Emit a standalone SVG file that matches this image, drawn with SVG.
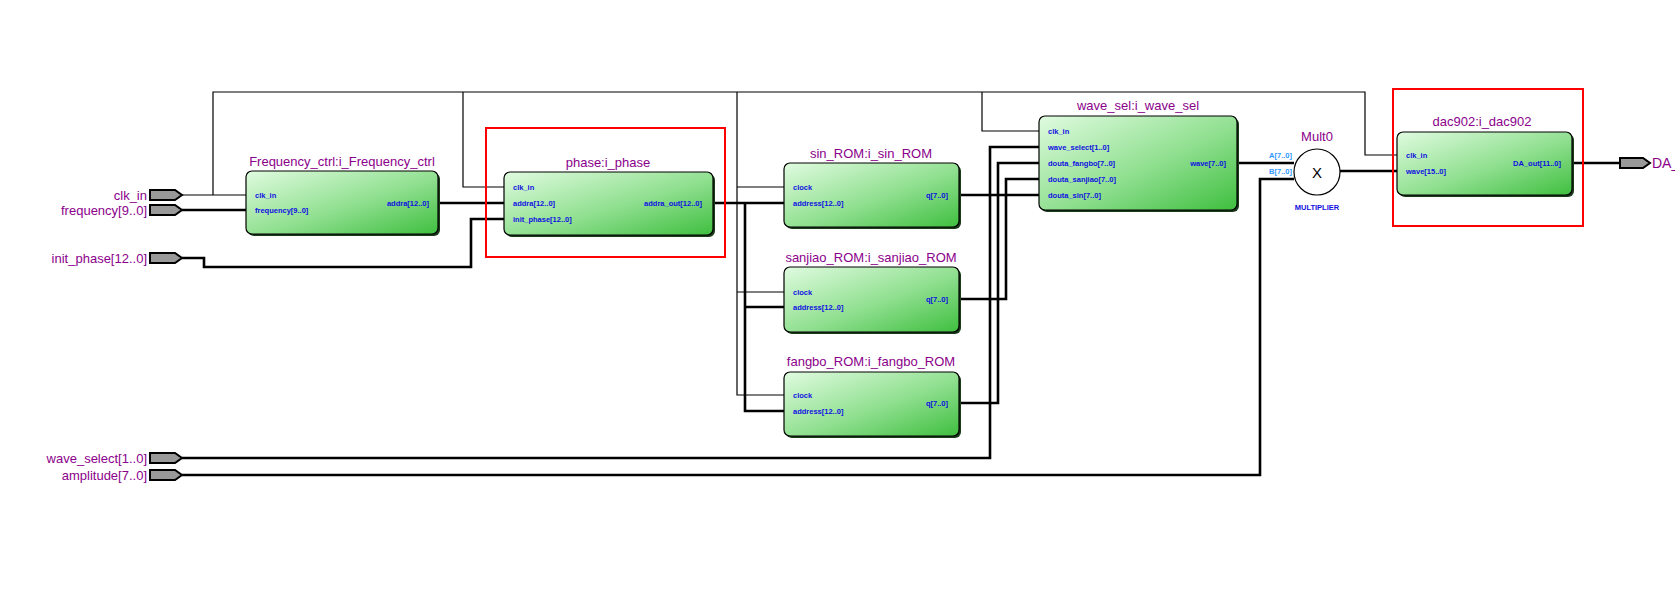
<svg xmlns="http://www.w3.org/2000/svg" width="1675" height="597" viewBox="0 0 1675 597">
<defs>
<linearGradient id="g" x1="0" y1="0" x2="1" y2="1"><stop offset="0" stop-color="#e0fbe0"/><stop offset="0.55" stop-color="#8fdf8f"/><stop offset="1" stop-color="#3fbf3f"/></linearGradient>
<style>
.box{fill:url(#g);stroke:#000;stroke-width:1.2}
.sh{fill:#1a3a1a}
.t{font-family:"Liberation Sans",Arial,sans-serif;font-size:13px;fill:#8b008b}
.p{font-family:"Liberation Sans",Arial,sans-serif;font-size:7.5px;font-weight:bold;fill:#1010e0}
.pl{font-family:"Liberation Sans",Arial,sans-serif;font-size:13px;fill:#8b008b;text-anchor:end}
.w{fill:none;stroke:#000;stroke-width:1.2}
.b{fill:none;stroke:#000;stroke-width:2.6}
.port{fill:#999;stroke:#000;stroke-width:2}
.red{fill:none;stroke:#f00;stroke-width:2}
</style>
</defs>
<rect width="1675" height="597" fill="#fff"/>
<g id="connectors">
<polyline class="w" points="182,195 246,195"/>
<polyline class="w" points="213,195 213,92 1365,92 1365,155 1397,155"/>
<polyline class="w" points="463,92 463,187 504,187"/>
<polyline class="w" points="737,92 737,395 784,395"/>
<polyline class="w" points="737,187 784,187"/>
<polyline class="w" points="737,292 784,292"/>
<polyline class="w" points="982,92 982,131 1039,131"/>
<polyline class="b" points="182,210 246,210"/>
<polyline class="b" points="438,203 504,203"/>
<polyline class="b" points="182,258 204,258 204,267 471,267 471,219 504,219"/>
<polyline class="b" points="713,203 784,203"/>
<polyline class="b" points="745,203 745,411 784,411"/>
<polyline class="b" points="745,307 784,307"/>
<polyline class="b" points="959,195 1039,195"/>
<polyline class="b" points="959,299 1006,299 1006,179 1039,179"/>
<polyline class="b" points="959,403 998,403 998,163 1039,163"/>
<polyline class="b" points="182,458 990,458 990,147 1039,147"/>
<polyline class="b" points="1237,163 1294,163"/>
<polyline class="b" points="182,475 1260,475 1260,179 1294,179"/>
<polyline class="b" points="1340,171 1397,171"/>
<polyline class="b" points="1572,163 1620,163"/>
</g>
<g id="in_clk_in"><polygon class="port" points="150,190 175,190 182,195 175,200 150,200"/><text class="pl" x="147" y="200">clk_in</text></g>
<g id="in_frequency"><polygon class="port" points="150,205 175,205 182,210 175,215 150,215"/><text class="pl" x="147" y="215">frequency[9..0]</text></g>
<g id="in_init_phase"><polygon class="port" points="150,253 175,253 182,258 175,263 150,263"/><text class="pl" x="147" y="263">init_phase[12..0]</text></g>
<g id="in_wave_select"><polygon class="port" points="150,453 175,453 182,458 175,463 150,463"/><text class="pl" x="147" y="463">wave_select[1..0]</text></g>
<g id="in_amplitude"><polygon class="port" points="150,470 175,470 182,475 175,480 150,480"/><text class="pl" x="147" y="480">amplitude[7..0]</text></g>
<g id="out_DA"><polygon class="port" points="1620,158 1643,158 1650,163 1643,168 1620,168"/><text class="t" x="1652" y="168" style="font-size:14px">DA_</text></g>
<g id="Frequency_ctrl">
<rect class="sh" x="248" y="173" width="192" height="63" rx="6"/>
<rect class="box" x="246" y="171" width="192" height="63" rx="6"/>
<text class="t" x="342" y="166" text-anchor="middle">Frequency_ctrl:i_Frequency_ctrl</text>
<text class="p" x="255" y="198">clk_in</text><text class="p" x="255" y="213">frequency[9..0]</text>
<text class="p" x="429" y="206" text-anchor="end">addra[12..0]</text>
</g>
<g id="phase">
<rect class="red" x="486" y="128" width="239" height="129"/>
<rect class="sh" x="506" y="174" width="209" height="63" rx="6"/>
<rect class="box" x="504" y="172" width="209" height="63" rx="6"/>
<text class="t" x="608" y="167" text-anchor="middle">phase:i_phase</text>
<text class="p" x="513" y="190">clk_in</text><text class="p" x="513" y="206">addra[12..0]</text><text class="p" x="513" y="222">init_phase[12..0]</text>
<text class="p" x="702" y="206" text-anchor="end">addra_out[12..0]</text>
</g>
<g id="sin_ROM">
<rect class="sh" x="786" y="165" width="175" height="64" rx="6"/>
<rect class="box" x="784" y="163" width="175" height="64" rx="6"/>
<text class="t" x="871" y="158" text-anchor="middle">sin_ROM:i_sin_ROM</text>
<text class="p" x="793" y="190">clock</text><text class="p" x="793" y="206">address[12..0]</text>
<text class="p" x="948" y="198" text-anchor="end">q[7..0]</text>
</g>
<g id="sanjiao_ROM">
<rect class="sh" x="786" y="269" width="175" height="65" rx="6"/>
<rect class="box" x="784" y="267" width="175" height="65" rx="6"/>
<text class="t" x="871" y="262" text-anchor="middle">sanjiao_ROM:i_sanjiao_ROM</text>
<text class="p" x="793" y="295">clock</text><text class="p" x="793" y="310">address[12..0]</text>
<text class="p" x="948" y="302" text-anchor="end">q[7..0]</text>
</g>
<g id="fangbo_ROM">
<rect class="sh" x="786" y="374" width="175" height="64" rx="6"/>
<rect class="box" x="784" y="372" width="175" height="64" rx="6"/>
<text class="t" x="871" y="366" text-anchor="middle">fangbo_ROM:i_fangbo_ROM</text>
<text class="p" x="793" y="398">clock</text><text class="p" x="793" y="414">address[12..0]</text>
<text class="p" x="948" y="406" text-anchor="end">q[7..0]</text>
</g>
<g id="wave_sel">
<rect class="sh" x="1041" y="118" width="198" height="94" rx="6"/>
<rect class="box" x="1039" y="116" width="198" height="94" rx="6"/>
<text class="t" x="1138" y="110" text-anchor="middle">wave_sel:i_wave_sel</text>
<text class="p" x="1048" y="134">clk_in</text><text class="p" x="1048" y="150">wave_select[1..0]</text><text class="p" x="1048" y="166">douta_fangbo[7..0]</text><text class="p" x="1048" y="182">douta_sanjiao[7..0]</text><text class="p" x="1048" y="198">douta_sin[7..0]</text>
<text class="p" x="1226" y="166" text-anchor="end">wave[7..0]</text>
</g>
<g id="Mult0">
<circle cx="1317" cy="172" r="23" fill="#fff" stroke="#000" stroke-width="1.2"/>
<text x="1317" y="178" text-anchor="middle" style="font-family:'Liberation Sans',Arial,sans-serif;font-size:15px">X</text>
<text class="t" x="1317" y="141" text-anchor="middle">Mult0</text>
<text x="1292" y="158" text-anchor="end" style="font-family:'Liberation Sans',Arial,sans-serif;font-size:7.5px;font-weight:bold;fill:#3399ff">A[7..0]</text>
<text x="1292" y="174" text-anchor="end" style="font-family:'Liberation Sans',Arial,sans-serif;font-size:7.5px;font-weight:bold;fill:#3399ff">B[7..0]</text>
<text x="1317" y="210" text-anchor="middle" style="font-family:'Liberation Sans',Arial,sans-serif;font-size:7.5px;font-weight:bold;fill:#1010e0">MULTIPLIER</text>
</g>
<g id="dac902">
<rect class="red" x="1393" y="89" width="190" height="137"/>
<rect class="sh" x="1399" y="134" width="175" height="63" rx="6"/>
<rect class="box" x="1397" y="132" width="175" height="63" rx="6"/>
<text class="t" x="1482" y="126" text-anchor="middle">dac902:i_dac902</text>
<text class="p" x="1406" y="158">clk_in</text><text class="p" x="1406" y="174">wave[15..0]</text>
<text class="p" x="1561" y="166" text-anchor="end">DA_out[11..0]</text>
</g>
</svg>
